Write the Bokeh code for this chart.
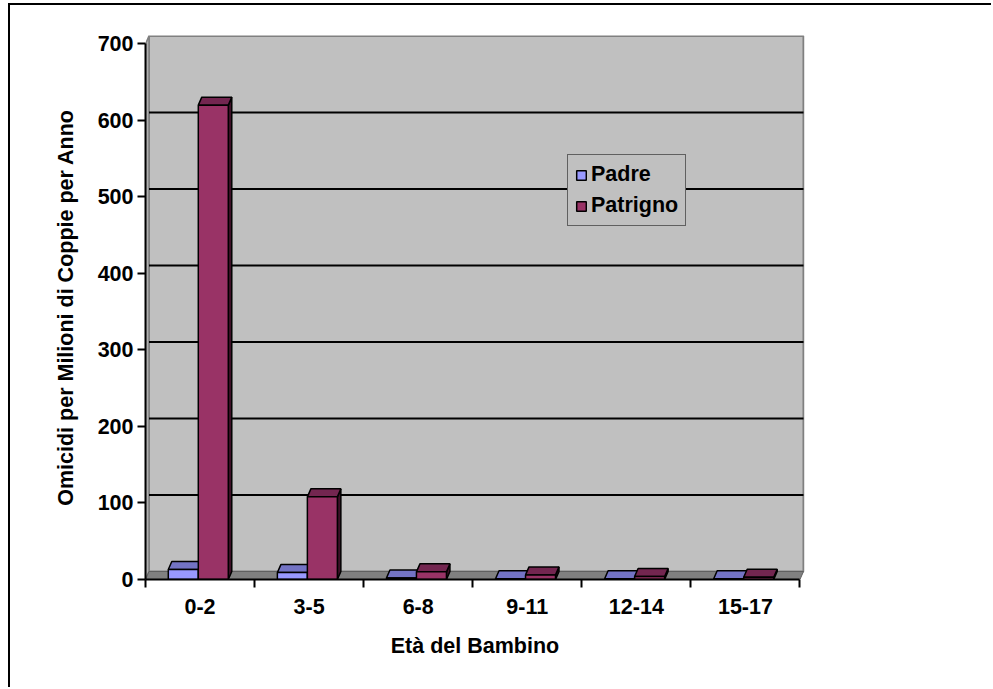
from bokeh.plotting import figure
from bokeh.models import Range1d, FixedTicker, Legend, LegendItem
from bokeh.embed import file_html
from bokeh.resources import INLINE

# Homicide rates per million couples per year, by child's age group
age_groups = ["0-2", "3-5", "6-8", "9-11", "12-14", "15-17"]
padre = [13, 9, 2, 1, 1, 1]
patrigno = [620, 108, 10, 6, 4, 3]
y_ticks = [0, 100, 200, 300, 400, 500, 600, 700]
grid_values = [100, 200, 300, 400, 500, 600]

FONT = "Liberation Sans"
FONT_SIZE = "21.5px"

# canvas / frame geometry (pixels)
W, H = 983, 684
FRAME_W, FRAME_H = 659, 544
X_END, Y_END = 6.0415, 711.0
DEPTH_X_PX, DEPTH_Y_PX = 3.5, 8.0
dx = DEPTH_X_PX * X_END / FRAME_W
dy = DEPTH_Y_PX * Y_END / FRAME_H
BAR_W = 0.275
N = len(age_groups)

p = figure(width=W, height=H, output_backend="svg", toolbar_location=None,
           x_range=Range1d(0, X_END), y_range=Range1d(0, Y_END),
           min_border_left=135, min_border_top=30,
           min_border_right=W - 135 - FRAME_W, min_border_bottom=H - 30 - FRAME_H)
p.styles = {"border-left": "2px solid black", "border-top": "2px solid black",
            "margin-left": "8px", "margin-top": "3px"}
p.outline_line_color = None
p.background_fill_color = "white"
p.xgrid.visible = False
p.ygrid.visible = False

# back wall, side wall and floor of the 3D box
p.quad(left=dx, right=N + dx, bottom=dy, top=y_ticks[-1] + dy,
       fill_color="#C0C0C0", line_color="#808080", line_width=2)
p.patch([0, dx, dx, 0], [0, dy, y_ticks[-1] + dy, y_ticks[-1]],
        fill_color="#B0B0B0", line_color="#808080", line_width=1.5)
p.patch([0, N, N + dx, dx], [0, 0, dy, dy],
        fill_color="#808080", line_color="#606060", line_width=1)

# gridlines on the back wall
p.segment(x0=[dx] * len(grid_values), x1=[N + dx] * len(grid_values),
          y0=[v + dy for v in grid_values], y1=[v + dy for v in grid_values],
          line_color="black", line_width=2)


def draw_series(values, offset, front, top, side):
    lefts = [i + 0.5 + offset - BAR_W / 2 - dx / 2 for i in range(N)]
    rights = [l + BAR_W for l in lefts]
    side_xs = [[r, r + dx, r + dx, r] for r in rights]
    side_ys = [[0, dy, v + dy, v] for v in values]
    top_xs = [[l, r, r + dx, l + dx] for l, r in zip(lefts, rights)]
    top_ys = [[v, v, v + dy, v + dy] for v in values]
    p.patches(side_xs, side_ys, fill_color=side, line_color="black", line_width=1.5)
    p.patches(top_xs, top_ys, fill_color=top, line_color="black", line_width=1.5)
    return p.quad(left=lefts, right=rights, bottom=0, top=values,
                  fill_color=front, line_color="black", line_width=1.5)


r_padre = draw_series(padre, -BAR_W / 2, "#9999FF", "#7373C4", "#3A3A70")
r_patrigno = draw_series(patrigno, BAR_W / 2, "#993366", "#732650", "#3E1028")

# axes
p.yaxis.ticker = FixedTicker(ticks=y_ticks)
p.yaxis.bounds = (0, 700)
p.xaxis.bounds = (0, N)
p.xaxis.ticker = FixedTicker(ticks=[i + 0.5 for i in range(N)],
                             minor_ticks=list(range(N + 1)))
p.xaxis.major_label_overrides = {i + 0.5: g for i, g in enumerate(age_groups)}
p.xaxis.major_tick_out = 0
p.xaxis.major_tick_in = 0
p.xaxis.minor_tick_out = 8
p.xaxis.minor_tick_in = 0
p.xaxis.minor_tick_line_color = "black"
p.xaxis.minor_tick_line_width = 2
p.yaxis.major_tick_out = 8
p.yaxis.major_tick_in = 0
p.yaxis.minor_tick_line_color = None

for ax in (p.xaxis, p.yaxis):
    ax.axis_line_color = "black"
    ax.axis_line_width = 2
    ax.major_tick_line_color = "black"
    ax.major_tick_line_width = 2
    ax.major_label_text_font = FONT
    ax.major_label_text_font_style = "bold"
    ax.major_label_text_font_size = FONT_SIZE
    ax.major_label_text_color = "black"
    ax.axis_label_text_font = FONT
    ax.axis_label_text_font_style = "bold"
    ax.axis_label_text_font_size = FONT_SIZE
    ax.axis_label_text_color = "black"

p.xaxis.axis_label = "Età del Bambino"
p.yaxis.axis_label = "Omicidi per Milioni di Coppie per Anno"
p.xaxis.major_label_standoff = 11
p.xaxis.axis_label_standoff = 17
p.yaxis.major_label_standoff = 4
p.yaxis.axis_label_standoff = 17

legend = Legend(items=[LegendItem(label="Padre", renderers=[r_padre]),
                       LegendItem(label="Patrigno", renderers=[r_patrigno])],
                location=(422, 353), orientation="vertical",
                background_fill_color="#C0C0C0", background_fill_alpha=1,
                border_line_color="black", border_line_width=1.5,
                label_text_font=FONT, label_text_font_style="bold",
                label_text_font_size=FONT_SIZE, label_text_color="black",
                glyph_width=12, glyph_height=12, label_standoff=4,
                spacing=6, padding=7, margin=0)
p.add_layout(legend, "center")

open("out.html", "w").write(file_html(p, INLINE))
